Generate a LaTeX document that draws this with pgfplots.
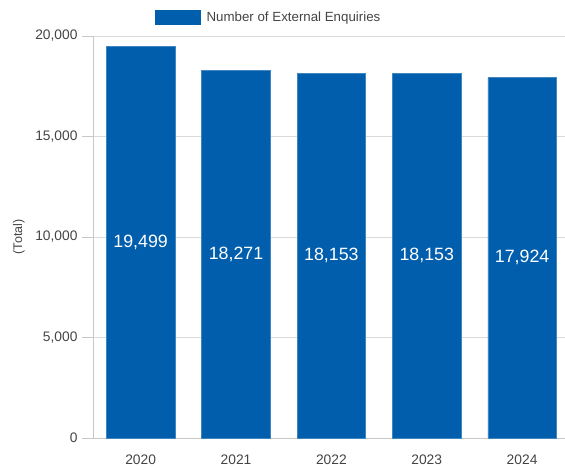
\documentclass[border=0pt]{standalone}
\usepackage{pgfplots}
\pgfplotsset{compat=1.18}
\usepackage{pgfplotstable}
\usepackage{fontspec}
\setmainfont{Liberation Sans}
\definecolor{barblue}{RGB}{0,94,173}
\definecolor{gridgray}{RGB}{217,217,217}
\definecolor{axgray}{RGB}{200,200,200}
\definecolor{txtgray}{RGB}{68,68,68}
\pgfplotstableread{
x v
0 19499
1 18271
2 18153
3 18153
4 17924
}\enq
\begin{document}
\begin{tikzpicture}
\useasboundingbox (-93bp,-32bp) rectangle (472bp,438bp);
\begin{axis}[
  at={(0,0)}, anchor=south west,
  scale only axis, width=472bp, height=402bp,
  xmin=-0.5, xmax=4.45, ymin=0, ymax=20000,
  xtick=data, xticklabels={2020,2021,2022,2023,2024},
  ytick={0,5000,10000,15000,20000},
  scaled y ticks=false,
  /pgf/number format/.cd, 1000 sep={,}, assume math mode=true, /pgfplots/.cd,
  axis x line*=bottom, axis y line*=left,
  axis line style={draw=axgray, line width=0.8bp},
  x axis line style={-}, y axis line style={-},
  ymajorgrids, grid style={draw=gridgray, line width=0.8bp},
  tick align=outside, major tick length=11bp,
  ytick style={draw=axgray, line width=0.8bp},
  xtick style={draw=none},
  ticklabel style={font=\fontsize{13.8bp}{15bp}\selectfont, text=txtgray},
  yticklabel style={xshift=-1bp},
  xticklabel style={anchor=center, yshift=-11bp},
  ylabel={(Total)},
  every axis y label/.style={at={(axis description cs:0,0.5)}, xshift=-74bp, rotate=90, anchor=center, font=\fontsize{12.5bp}{14bp}\selectfont, text=txtgray},
  legend style={at={(axis description cs:0.131,1.047)}, anchor=west, draw=none, fill=none, font=\fontsize{13.3bp}{15bp}\selectfont, text=txtgray, inner sep=0pt, /tikz/every even column/.append style={column sep=0pt}},
  legend cell align=left,
  legend image code/.code={\fill[barblue] (0bp,-7bp) rectangle (45bp,7bp);},
  clip=false,
]
\addplot[ybar, bar width=68.5bp, fill=barblue, draw=barblue!75!white, line width=0.6bp] table[x=x, y=v] {\enq};
\addlegendentry{\hspace{4bp}Number of External Enquiries}
\addplot[forget plot, only marks, mark=none, draw=none,
  nodes near coords, point meta=explicit,
  nodes near coords style={anchor=center, text=white, font=\fontsize{17.8bp}{19bp}\selectfont, /pgf/number format/.cd, 1000 sep={,}, assume math mode=true}]
  table[x=x, y expr=\thisrow{v}/2, meta=v] {\enq};
\end{axis}
\end{tikzpicture}
\end{document}
